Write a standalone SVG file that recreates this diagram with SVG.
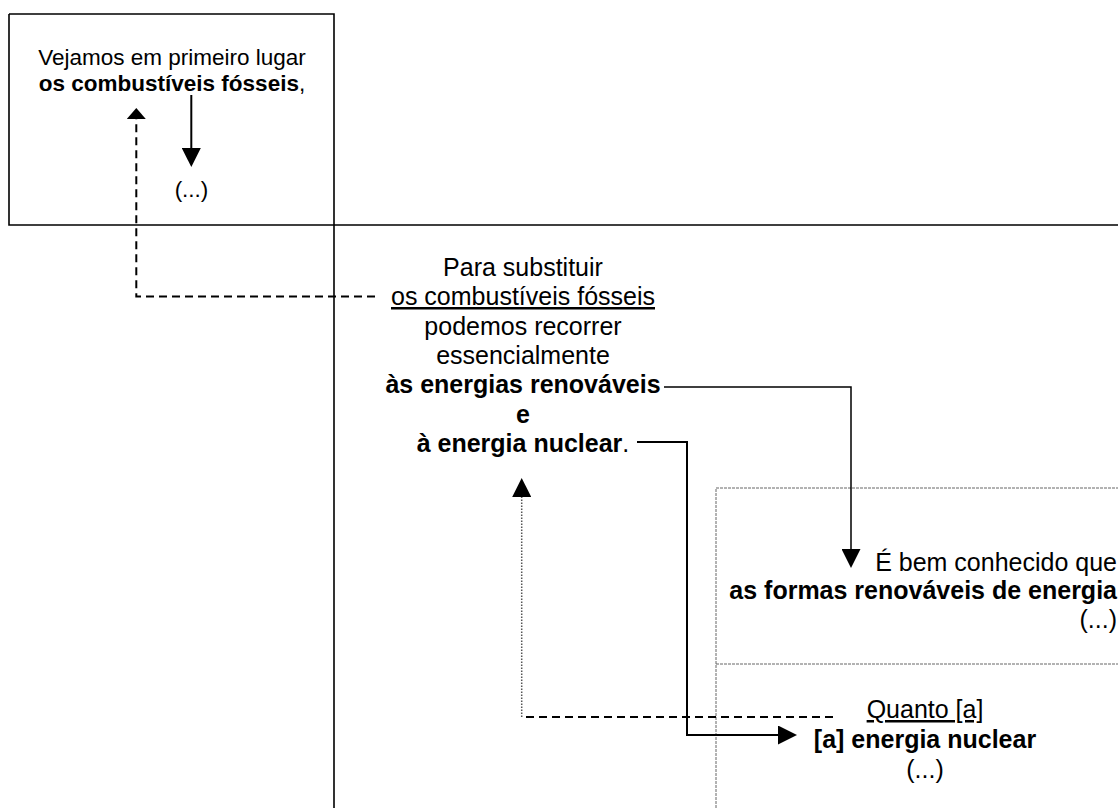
<svg xmlns="http://www.w3.org/2000/svg" width="1118" height="808" viewBox="0 0 1118 808">
<defs>
<style>
text{font-family:"Liberation Sans",Arial,sans-serif;fill:#000}
.r{font-size:25px}
.s{font-size:22.5px}
.b{font-weight:bold}
.c{text-anchor:middle}
.e{text-anchor:end}
.u{text-decoration:underline}
.frame{fill:none;stroke:#000;stroke-width:1.6}
.box{fill:none;stroke:#666;stroke-width:1;stroke-dasharray:3 1}
.ln{fill:none;stroke:#000;stroke-width:2}
.thin{stroke-width:1.5}
.dash{fill:none;stroke:#000;stroke-width:2;stroke-dasharray:8 5}
.dot{fill:none;stroke:#555;stroke-width:1.5;stroke-dasharray:1.5 1.5}
</style>
<marker id="ah" viewBox="0 0 19 19" refX="0" refY="9.5" markerWidth="19" markerHeight="19" markerUnits="userSpaceOnUse" orient="auto"><path d="M0,0 L19,9.5 L0,19 z" fill="#000"/></marker>
<marker id="ahs" viewBox="0 0 11 19" refX="0" refY="9.5" markerWidth="11" markerHeight="19" markerUnits="userSpaceOnUse" orient="auto"><path d="M0,0 L11,9.5 L0,19 z" fill="#000"/></marker>
</defs>
<rect width="1118" height="808" fill="#fff"/>
<g id="frame">
<path class="frame" d="M9,14 H334 V808 M9,14 V225 H1118"/>
<path class="box" d="M716,808 V488 H1118 M716,664 H1118"/>
</g>
<g id="node-fosseis">
<text class="s c" x="172" y="65">Vejamos em primeiro lugar</text>
<text class="s c" x="172" y="91"><tspan class="b">os combustíveis fósseis</tspan>,</text>
<text class="s c" x="191.5" y="197">(...)</text>
</g>
<g id="node-substituir">
<text class="r c" x="523" y="276">Para substituir</text>
<text class="r c u" x="523" y="305">os combustíveis fósseis</text>
<text class="r c" x="523" y="335">podemos recorrer</text>
<text class="r c" x="523" y="364">essencialmente</text>
<text class="r c b" x="523" y="393">às energias renováveis</text>
<text class="r c b" x="523" y="423">e</text>
<text class="r c" x="523" y="452"><tspan class="b">à energia nuclear</tspan>.</text>
</g>
<g id="node-renovaveis">
<text class="r e" x="1117" y="571">É bem conhecido que</text>
<text class="r e b" x="1117" y="599">as formas renováveis de energia</text>
<text class="r e" x="1117" y="628">(...)</text>
</g>
<g id="node-nuclear">
<text class="r c u" x="925" y="718">Quanto [a]</text>
<text class="r c b" x="925" y="748">[a] energia nuclear</text>
<text class="r c" x="925" y="778">(...)</text>
</g>
<g id="connectors">
<path class="ln" d="M191.3,95 V148" marker-end="url(#ah)"/>
<path class="dash" d="M375,296.5 H136.3 V119" marker-end="url(#ahs)"/>
<path class="ln thin" d="M664,387 H851 V549" marker-end="url(#ah)"/>
<path class="ln" d="M637,442 H687 V735 H778" marker-end="url(#ah)"/>
<path class="dash" d="M833,717 H521.7"/>
<path class="dot" d="M521.7,717 V497" marker-end="url(#ah)"/>
</g>
</svg>
